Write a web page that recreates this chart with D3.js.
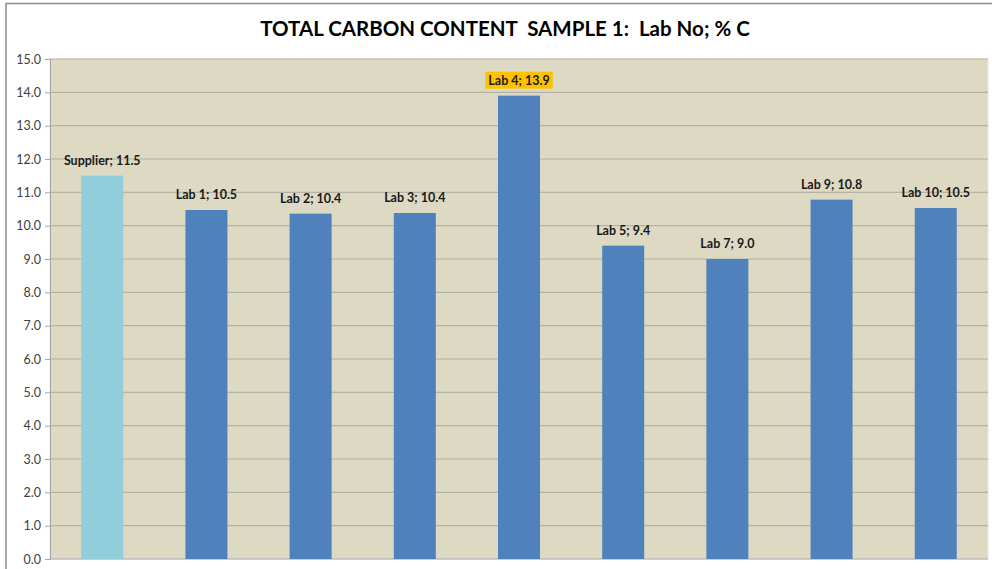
<!DOCTYPE html>
<html lang="en">
<head>
  <meta charset="UTF-8" />
  <title>Total Carbon Content Sample 1</title>
  <script src="https://d3js.org/d3.v7.min.js"></script>
  <style>
    body { margin: 0; background: #fff; }
    svg { display: block; }
    text { font-family: Lato, "Open Sans", sans-serif; }
  </style>
</head>
<body>
  <svg width="992" height="569"></svg>
  <script>
    // data
    const labs = ["Supplier", "Lab 1", "Lab 2", "Lab 3", "Lab 4", "Lab 5", "Lab 7", "Lab 9", "Lab 10"];
    const carbon = [11.5, 10.47, 10.36, 10.38, 13.9, 9.4, 9.0, 10.78, 10.53];
    const yTicks = [0, 1, 2, 3, 4, 5, 6, 7, 8, 9, 10, 11, 12, 13, 14, 15];
    const highlighted = ["Lab 4"];

    const svg = d3.select("svg");
    const margin = { top: 59, left: 50, right: 4, bottom: 10 };
    const width = 992, height = 569;

    // outer frame
    svg.append("path")
      .attr("d", `M6,${height} V3.5 H${width}`)
      .attr("fill", "none")
      .attr("stroke", "#8c8c8c")
      .attr("stroke-width", 1.5);

    svg.append("text")
      .attr("x", 505)
      .attr("y", 36)
      .attr("text-anchor", "middle")
      .attr("font-size", 20.5)
      .attr("font-weight", "bold")
      .attr("fill", "#000")
      .style("white-space", "pre")
      .text("TOTAL CARBON CONTENT  SAMPLE 1:  Lab No; % C");

    const x = d3.scaleBand()
      .domain(labs)
      .range([margin.left, width - margin.right])
      .paddingInner(0.597)
      .paddingOuter(0.3);

    const y = d3.scaleLinear()
      .domain([0, 15])
      .range([height - margin.bottom, margin.top]);

    // plot background
    svg.append("rect")
      .attr("x", margin.left)
      .attr("y", margin.top)
      .attr("width", width - margin.right - margin.left)
      .attr("height", y(0) - margin.top)
      .attr("fill", "#ddd9c3")
      .attr("stroke", "#e8e6da");

    // gridlines
    svg.append("g")
      .selectAll("line")
      .data(yTicks.slice(1))
      .join("line")
      .attr("x1", margin.left)
      .attr("x2", width - margin.right)
      .attr("y1", d => y(d))
      .attr("y2", d => y(d))
      .attr("stroke", "#b5b2a6")
      .attr("stroke-width", 1.2);

    // y axis
    const yAxis = svg.append("g")
      .attr("transform", `translate(${margin.left},0)`)
      .call(d3.axisLeft(y).tickValues(yTicks).tickFormat(d3.format(".1f")).tickSize(5).tickPadding(4));
    yAxis.select(".domain").attr("stroke", "#a6a6a6");
    yAxis.selectAll(".tick line").attr("stroke", "#a6a6a6");
    yAxis.selectAll(".tick text")
      .attr("font-size", 12.5)
      .attr("fill", "#404040")
      .style("font-family", "Lato, 'Open Sans', sans-serif");

    // x axis line
    svg.append("line")
      .attr("x1", margin.left)
      .attr("x2", width - margin.right)
      .attr("y1", y(0))
      .attr("y2", y(0))
      .attr("stroke", "#a6a6a6");

    // bars
    svg.append("g")
      .selectAll("rect")
      .data(labs)
      .join("rect")
      .attr("x", d => x(d))
      .attr("y", (d, i) => y(carbon[i]))
      .attr("width", x.bandwidth())
      .attr("height", (d, i) => y(0) - y(carbon[i]))
      .attr("fill", (d, i) => i === 0 ? "#92cddc" : "#4f81bd");

    // data labels
    const fmt = d3.format(".1f");
    const labelG = svg.append("g");
    labs.forEach((d, i) => {
      const cx = x(d) + x.bandwidth() / 2;
      const ty = y(carbon[i]) - 11;
      const txt = `${d}; ${fmt(carbon[i])}`;
      const t = labelG.append("text")
        .attr("x", cx).attr("y", ty)
        .attr("text-anchor", "middle")
        .attr("font-size", 12.5)
        .attr("font-weight", "bold")
        .attr("fill", "#1a1a1a")
        .text(txt);
      if (highlighted.includes(d)) {
        const bb = t.node().getBBox();
        labelG.insert("rect", "text")
          .attr("x", bb.x - 3)
          .attr("y", bb.y - 1)
          .attr("width", bb.width + 6)
          .attr("height", bb.height + 2)
          .attr("fill", "#ffc000");
      }
    });
  </script>
</body>
</html>
